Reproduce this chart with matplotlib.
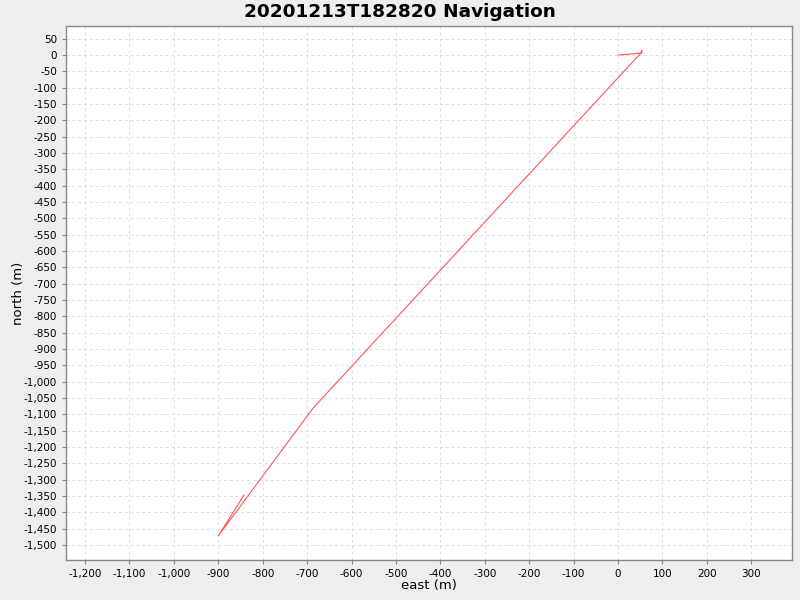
import matplotlib
matplotlib.use("Agg")
import matplotlib.pyplot as plt
from matplotlib.ticker import FuncFormatter, MultipleLocator

title = "20201213T182820 Navigation"
east = [0, 29, 52, 54, 53, -24, -686, -900, -842]
north = [0, 3, 6, 15, 8, -105, -1080, -1472, -1347]

fig = plt.figure(figsize=(8, 6), dpi=100, facecolor="#EEEEEE")
ax = fig.add_axes([0.0825, 0.0667, 0.9075, 0.89])
ax.set_facecolor("white")
ax.plot(east, north, color="#FF5555", linewidth=0.8)

ax.set_xlim(-1243, 392)
ax.set_ylim(-1546, 89)
ax.xaxis.set_major_locator(MultipleLocator(100))
ax.yaxis.set_major_locator(MultipleLocator(50))
fmt = FuncFormatter(lambda v, p: f"{int(round(v)):,}")
ax.xaxis.set_major_formatter(fmt)
ax.yaxis.set_major_formatter(fmt)

ax.grid(True, color="#DDDDDD", linestyle=(0, (3, 3)), linewidth=0.7)
ax.set_axisbelow(True)
for s in ax.spines.values():
    s.set_color("#888888")
    s.set_linewidth(1.0)
ax.tick_params(axis="both", labelsize=7.5, colors="#888888", labelcolor="black",
               length=3, width=0.8, direction="out")

ax.set_xlabel("east (m)", fontsize=9.5, labelpad=0)
ax.set_ylabel("north (m)", fontsize=9.5, labelpad=-1)
fig.suptitle(title, fontsize=13.3, fontweight="bold", y=0.995)

fig.savefig("out.png", dpi=100, facecolor=fig.get_facecolor())
